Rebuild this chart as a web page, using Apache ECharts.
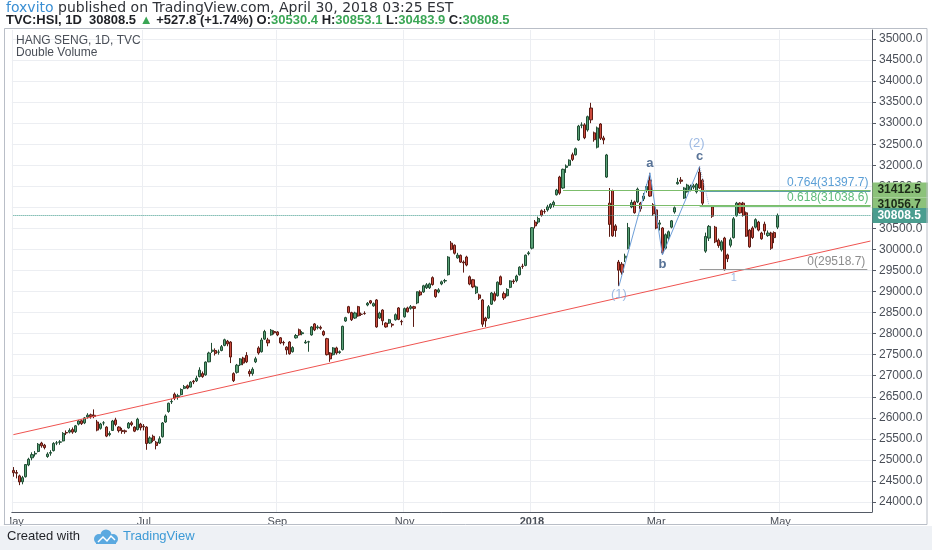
<!DOCTYPE html>
<html>
<head>
<meta charset="utf-8">
<script src="https://cdn.jsdelivr.net/npm/echarts@6/dist/echarts.min.js"></script>
<style>
html, body { margin: 0; padding: 0; background: #ffffff; }
#chart { width: 932px; height: 550px; }
</style>
</head>
<body>
<div id="chart"></div>
<script>
// HK exchange closed days in the period (weekends are skipped too)
var holidays = ['2017-05-03', '2017-05-30', '2017-08-23', '2017-10-02', '2017-10-05',
	'2017-12-25', '2017-12-26', '2018-01-01', '2018-02-16', '2018-02-19', '2018-03-30',
	'2018-04-02', '2018-04-05', '2018-05-01', '2018-05-22'];
var firstDay = '2017-05-02';
var dayCount = 277; // 247 traded days + empty space to the right

// daily candles [open, close, low, high]
var ohlc = [
	// May 2017
	[24750,24696,24600,24830],[24700,24683,24560,24760],[24620,24476,24400,24650],[24480,24578,24420,24620],
	[24600,24889,24580,24900],[24880,25015,24850,25050],[25050,25125,24990,25180],[25140,25156,25080,25210],
	[25200,25371,25180,25400],[25400,25335,25290,25430],[25350,25293,25250,25380],[25080,25137,25050,25180],
	[25160,25174,25100,25230],[25220,25391,25200,25420],[25400,25404,25350,25450],[25420,25428,25360,25470],
	[25450,25631,25440,25660],[25650,25639,25590,25700],[25660,25701,25630,25750],[25720,25660,25620,25770],
	// Jun
	[25670,25809,25640,25830],[25850,25924,25820,25950],[25930,25862,25830,25960],[25880,25997,25850,26020],
	[26020,26063,25980,26110],[26070,26030,25980,26100],[26060,26030,25990,26200],[25900,25708,25680,25950],
	[25750,25852,25720,25880],[25880,25880,25820,25920],[25780,25565,25540,25800],[25600,25626,25560,25680],
	[25700,25924,25690,25950],[25950,25843,25800,26000],[25780,25694,25650,25800],[25700,25674,25620,25760],
	[25690,25670,25620,25720],[25760,25871,25740,25900],[25880,25839,25800,25920],[25780,25683,25660,25800],
	[25720,25965,25700,26000],[25850,25765,25700,25880],
	// Jul
	[25800,25785,25700,25850],[25780,25389,25240,25800],[25400,25522,25380,25560],[25560,25465,25420,25600],
	[25420,25341,25250,25450],[25400,25500,25380,25560],[25550,25877,25530,25900],[25900,26043,25880,26080],
	[26150,26346,26120,26360],[26380,26389,26330,26450],[26560,26470,26420,26600],[26500,26524,26430,26570],
	[26550,26672,26530,26700],[26700,26740,26680,26780],[26760,26706,26680,26790],[26730,26846,26720,26870],
	[26870,26853,26800,26900],[26880,26941,26850,27000],[26980,27131,26960,27200],[27050,26979,26950,27100],
	[27020,27323,27000,27340],
	// Aug
	[27330,27540,27320,27570],[27580,27607,27540,27780],[27600,27531,27480,27650],[27560,27563,27500,27620],
	[27600,27690,27580,27730],[27720,27854,27700,27880],[27820,27757,27700,27850],[27800,27444,27300,27820],
	[27050,26883,26850,27080],[27080,27250,27050,27280],[27260,27400,27230,27420],[27420,27300,27250,27450],
	[27480,27330,27300,27560],[27100,27048,26980,27150],[27050,27154,27000,27200],[27330,27402,27300,27450],
	[27660,27540,27500,27700],[27570,27848,27550,27900],[27870,28050,27850,28090],[27850,27780,27700,27900],
	[27970,28080,27950,28110],[28050,28020,27980,28080],
	// Sep
	[28040,27970,27940,28060],[27900,27780,27750,27920],[27790,27780,27720,27830],[27680,27613,27500,27700],
	[27800,27522,27500,27820],[27570,27668,27550,27700],[27900,27955,27880,27990],[28090,27972,27950,28120],
	[28000,28020,27960,28060],[27780,27800,27760,27850],[27800,27807,27570,27830],[27970,28159,27950,28180],
	[28230,28090,28060,28250],[28140,28160,28100,28200],[28150,28127,28090,28190],[28050,27970,27940,28080],
	[27880,27500,27480,27900],[27540,27400,27330,27560],[27500,27660,27480,27680],[27660,27540,27500,27690],
	[27550,27570,27520,27600],
	// Oct
	[27620,28173,27600,28190],[28300,28379,28280,28400],[28640,28500,28480,28660],[28500,28330,28300,28520],
	[28370,28491,28350,28520],[28640,28420,28400,28660],[28460,28459,28420,28500],[28480,28476,28450,28530],
	[28680,28720,28650,28750],[28780,28730,28700,28800],[28660,28712,28640,28740],[28800,28160,28140,28820],
	[28370,28487,28350,28520],[28560,28305,28200,28580],[28250,28160,28140,28270],[28250,28330,28230,28350],
	[28220,28202,28150,28250],[28330,28450,28310,28480],[28610,28339,28320,28630],[28290,28280,28200,28330],
	// Nov
	[28400,28594,28380,28620],[28610,28520,28500,28640],[28600,28640,28570,28680],[28640,28600,28160,28660],
	[28730,28994,28700,29000],[28990,28920,28890,29030],[28990,29136,28970,29160],[29090,29160,29060,29200],
	[29090,29182,29060,29210],[29330,29166,29140,29360],[29040,28880,28850,29060],[28990,29040,28960,29080],
	[29180,29230,29150,29260],[29250,29261,29200,29300],[29400,29818,29380,29840],[30150,30003,29980,30200],
	[30100,29910,29880,30120],[29800,29866,29780,29920],[29860,29700,29680,29880],[29700,29681,29450,29740],
	[29820,29630,29600,29850],[29350,29177,29150,29380],
	// Dec
	[29280,29110,29080,29300],[28970,29110,28940,29140],[28920,28842,28800,28950],[28800,28225,28160,28820],
	[28370,28303,28160,28400],[28370,28640,28350,28680],[28700,28965,28680,28990],[28950,28793,28760,29000],
	[28900,29222,28880,29240],[29350,29166,29150,29380],[28950,28848,28800,29000],[28900,29050,28880,29080],
	[29100,29253,29080,29270],[29250,29234,29180,29290],[29260,29367,29220,29400],[29400,29578,29380,29600],
	[29600,29597,29540,29660],[29620,29864,29600,29880],[29900,29919,29860,29960],
	// Jan 2018
	[30030,30515,30000,30530],[30650,30560,30500,30700],[30650,30736,30600,30780],[30920,30814,30780,30950],
	[30900,30899,30850,30960],[30940,31011,30900,31060],[31000,31073,30960,31100],[31060,31120,31000,31160],
	[31300,31412,31280,31440],[31720,31338,31300,31750],[31460,31904,31440,31920],[31950,31983,31820,32020],
	[32000,32121,31980,32140],[32250,32140,32100,32300],[32250,32393,32230,32420],[32600,32930,32580,32960],
	[32950,32959,32880,33020],[32960,32654,32620,33000],[32840,33154,32800,33180],[33360,33080,33000,33484],
	[32770,32607,32560,32800],[32430,32887,32400,32920],
	// Feb
	[32980,32642,32600,33000],[32650,32601,32500,32700],[31720,32245,31700,32270],[31100,30595,30300,31460],
	[31400,30323,30300,31420],[30560,30451,30300,30600],[29700,29507,29129,29750],[29650,29459,29400,29700],
	[29800,29839,29700,29900],[30030,30516,30000,30630],[31010,31115,30980,31180],[31130,30873,30850,31160],
	[31130,31432,31100,31470],[31100,30965,30900,31130],[31200,31267,31150,31340],[31400,31498,31350,31550],
	[31650,31268,31250,31820],[31060,30845,30800,31100],
	// Mar
	[30940,30510,30480,31000],[30600,30630,30450,30700],[30510,29920,29870,30530],[30030,30350,30000,30380],
	[30270,30420,30200,30450],[30530,30680,30500,30700],[30890,30990,30850,31020],[31560,31594,31540,31700],
	[31650,31620,31560,31720],[31220,31460,31200,31480],[31370,31530,31350,31560],[31400,31500,31380,31540],
	[31480,31513,31430,31560],[31370,31549,31330,31580],[31840,31460,31440,31978],[31650,31100,31050,31680],
	[29960,30309,29920,30400],[30270,30548,30200,30580],[31010,30790,30750,31050],[30530,30180,30150,30560],
	[30220,30093,30040,30260],
	// Apr
	[29990,30180,29950,30220],[30270,29519,29500,30300],[29870,29780,29700,29900],[30100,30229,30050,30280],
	[30280,30728,30260,30770],[30800,31100,30780,31130],[31100,30870,30850,31120],[31100,30808,30780,31130],
	[30870,30316,30300,30900],[30460,30063,30040,30480],[30510,30284,30250,30550],[30530,30708,30500,30740],
	[30650,30460,30430,30680],[30390,30254,30230,30420],[30600,30440,30350,30660],[30330,30390,30300,30450],
	[30390,30030,29990,30420],[30400,30281,30150,30430],[30530.4,30808.5,30483.9,30853.1]
];

var yTicks = [24000, 24500, 25000, 25500, 26000, 26500, 27000, 27500, 28000, 28500, 29000,
	29500, 30000, 30500, 31000, 31500, 32000, 32500, 33000, 33500, 34000, 34500, 35000];
var monthNames = ['Jan', 'Feb', 'Mar', 'Apr', 'May', 'Jun', 'Jul', 'Aug', 'Sep', 'Oct', 'Nov', 'Dec'];

// Elliott wave pivots
var wavePoints = [['2018-02-09', 29129], ['2018-02-27', 31820], ['2018-03-05', 29870], ['2018-03-21', 31978]];
// fib retracement levels
var fibLevels = [
	{ level: 31397.7, text: '0.764(31397.7)' },
	{ level: 31038.6, text: '0.618(31038.6)' },
	{ level: 29518.7, text: '0(29518.7)' }
];
// horizontal rays and last price
var lastPrice = 30808.5;
var rayLevels = [{ from: '2018-01-16', level: 31412.5 }, { from: '2018-01-11', level: 31056.7 }];
// trend line ends
var trendStart = 25600, trendEnd = 30200;

// trading day categories
var dates = [];
(function () {
	var d = new Date(firstDay + 'T00:00:00Z');
	while (dates.length < dayCount) {
		var s = d.toISOString().slice(0, 10);
		var wd = d.getUTCDay();
		if (wd !== 0 && wd !== 6 && holidays.indexOf(s) < 0) dates.push(s);
		d.setUTCDate(d.getUTCDate() + 1);
	}
})();
var lastCat = dates[dates.length - 1];

var labelDays = {};
for (var i = 0; i < dates.length; i++) {
	var m = parseInt(dates[i].slice(5, 7), 10);
	var newMonth = i === 0 || dates[i - 1].slice(5, 7) !== dates[i].slice(5, 7);
	if (newMonth && m % 2 === 1) labelDays[i] = true;
}
function isLabelDay(index) { return !!labelDays[index]; }

var FONT = '"Liberation Sans", Arial, sans-serif';
var chart = echarts.init(document.getElementById('chart'));

function boxLabel(text, bg, fg) {
	return {
		show: true, position: 'end', distance: 2, formatter: text, backgroundColor: bg, color: fg,
		fontWeight: 'bold', fontSize: 12, fontFamily: FONT, padding: [2, 7, 1, 5]
	};
}

var marks = [
	// trend line
	[{ coord: [dates[0], trendStart], lineStyle: { color: '#ef5350', width: 1, type: 'solid' }, label: { show: false } },
	 { coord: [lastCat, trendEnd] }],
	// fib lines
	[{ coord: ['2018-03-21', fibLevels[0].level], lineStyle: { color: '#5f9ea8', width: 2, type: 'solid' },
	   label: { show: true, position: 'insideEndTop', formatter: fibLevels[0].text, color: '#5c9fd6', fontSize: 12, fontFamily: FONT, distance: 2 } },
	 { coord: [lastCat, fibLevels[0].level] }],
	[{ coord: ['2018-03-21', fibLevels[1].level], lineStyle: { color: '#7cc47a', width: 2, type: 'solid' },
	   label: { show: true, position: 'insideEndTop', formatter: fibLevels[1].text, color: '#5dbb78', fontSize: 12, fontFamily: FONT, distance: 2 } },
	 { coord: [lastCat, fibLevels[1].level] }],
	[{ coord: ['2018-03-21', fibLevels[2].level], lineStyle: { color: '#9a9a9a', width: 1, type: 'solid' },
	   label: { show: true, position: 'insideEndTop', formatter: fibLevels[2].text, color: '#8d8d8d', fontSize: 12, fontFamily: FONT, distance: 2 } },
	 { coord: [dates[275], fibLevels[2].level] }],
	// rays with price boxes
	[{ coord: [rayLevels[0].from, rayLevels[0].level], lineStyle: { color: '#7cbd6b', width: 1, type: 'solid' },
	   label: boxLabel('31412.5', '#8cc27a', '#1c2a18') },
	 { coord: [lastCat, rayLevels[0].level] }],
	[{ coord: [rayLevels[1].from, rayLevels[1].level], lineStyle: { color: '#7cbd6b', width: 1, type: 'solid' },
	   label: boxLabel('31056.7', '#8cc27a', '#1c2a18') },
	 { coord: [lastCat, rayLevels[1].level] }],
	// last price
	[{ coord: [dates[0], lastPrice], lineStyle: { color: '#3f9a8b', width: 1, type: 'dotted' },
	   label: boxLabel('30808.5', '#4a9d8f', '#ffffff') },
	 { coord: [lastCat, lastPrice] }],
	// dotted leg after c
	[{ coord: ['2018-03-21', 31978], lineStyle: { color: '#9bb7dc', width: 1, type: 'dotted' }, label: { show: false } },
	 { coord: ['2018-03-26', 31050] }]
];

var option = {
	animation: false,
	backgroundColor: '#ffffff',
	grid: { left: 7, right: 60, top: 30, bottom: 38 },
	xAxis: {
		type: 'category',
		data: dates,
		axisLine: { lineStyle: { color: '#555b66' } },
		axisTick: { show: false },
		axisLabel: {
			interval: isLabelDay,
			color: '#4a4f58',
			fontSize: 11,
			fontFamily: FONT,
			margin: 4,
			formatter: function (v) {
				var m = parseInt(v.slice(5, 7), 10);
				return m === 1 ? '{b|' + v.slice(0, 4) + '}' : monthNames[m - 1];
			},
			rich: { b: { fontWeight: 'bold', fontSize: 11, color: '#4a4f58', fontFamily: FONT } }
		},
		splitLine: { show: true, interval: isLabelDay, lineStyle: { color: '#eceef2' } }
	},
	yAxis: {
		type: 'value',
		position: 'right',
		min: 23762,
		max: 35214,
		axisLine: { show: true, lineStyle: { color: '#555b66' } },
		axisTick: { show: true, length: 4, customValues: yTicks, lineStyle: { color: '#555b66' } },
		axisLabel: {
			customValues: yTicks,
			color: '#4a4f58',
			fontSize: 12,
			fontFamily: FONT,
			margin: 7,
			formatter: function (v) { return v.toFixed(1); }
		},
		splitLine: { show: true, lineStyle: { color: '#eceef2' } }
	},
	series: [
		{
			type: 'candlestick',
			data: ohlc,
			barWidth: 2.6,
			itemStyle: {
				color: '#58a076', color0: '#cc4a3c',
				borderColor: '#1f4d33', borderColor0: '#5b1a13', borderWidth: 1
			},
			markLine: { symbol: ['none', 'none'], silent: true, animation: false, data: marks }
		},
		{
			type: 'line',
			data: wavePoints,
			symbol: 'none',
			lineStyle: { color: '#6e9fd8', width: 1 },
			z: 4
		},
		{
			type: 'scatter',
			symbolSize: 0,
			z: 6,
			label: { show: true, fontFamily: FONT },
			data: [
				{ value: wavePoints[0], label: { formatter: '(1)', position: 'bottom', distance: 2, color: '#86a9dc', fontSize: 13 } },
				{ value: wavePoints[1], label: { formatter: 'a', position: 'top', distance: 3, color: '#2d4f7c', fontSize: 13, fontWeight: 'bold' } },
				{ value: wavePoints[2], label: { formatter: 'b', position: 'bottom', distance: 3, color: '#2d4f7c', fontSize: 13, fontWeight: 'bold' } },
				{ value: wavePoints[3], label: { formatter: 'c', position: 'top', distance: 3, color: '#2d4f7c', fontSize: 13, fontWeight: 'bold' } },
				{ value: wavePoints[3], label: { formatter: '(2)', position: 'top', distance: 16, offset: [-3, 0], color: '#86a9dc', fontSize: 13 } },
				{ value: ['2018-04-10', 29518.7], label: { formatter: '1', position: 'bottom', distance: 3, color: '#86a9dc', fontSize: 11 } }
			]
		}
	],
	graphic: [
		{ type: 'rect', silent: true, z: 100, shape: { x: 0, y: 526, width: 932, height: 24 }, style: { fill: '#eef1f5' } },
		{ type: 'rect', silent: true, z: 100, shape: { x: 0, y: 512.5, width: 10, height: 12 }, style: { fill: '#ffffff' } },
		{ type: 'rect', silent: true, z: 101, shape: { x: 4.5, y: 28.5, width: 922.5, height: 496 }, style: { fill: 'none', stroke: '#b9bec7', lineWidth: 1 } },
		{
			type: 'text', z: 101, left: 6, top: 1,
			style: {
				text: '{u|foxvito} published on TradingView.com, April 30, 2018 03:25 EST',
				font: '14px "DejaVu Sans", sans-serif', fill: '#2f3238',
				rich: { u: { fill: '#3a8fd3', font: '14px "DejaVu Sans", sans-serif' } }
			}
		},
		{
			type: 'text', z: 101, left: 6, top: 14,
			style: {
				text: 'TVC:HSI, 1D  30808.5 {g|▲} +527.8 (+1.74%) O:{g|30530.4} H:{g|30853.1} L:{g|30483.9} C:{g|30808.5}',
				font: 'bold 13px ' + FONT, fill: '#1f2126',
				rich: { g: { fill: '#3aa655', font: 'bold 13px ' + FONT } }
			}
		},
		{ type: 'text', z: 101, left: 16, top: 35, style: { text: 'HANG SENG, 1D, TVC', font: '12px ' + FONT, fill: '#4a4f58' } },
		{ type: 'text', z: 101, left: 16, top: 47, style: { text: 'Double Volume', font: '12px ' + FONT, fill: '#4a4f58' } },
		{ type: 'text', z: 101, left: 7, top: 530, style: { text: 'Created with', font: '13px ' + FONT, fill: '#1f2126' } },
		{ type: 'circle', z: 102, silent: true, shape: { cx: 99, cy: 539, r: 5 }, style: { fill: '#5aa9e0' } },
		{ type: 'circle', z: 102, silent: true, shape: { cx: 106, cy: 535, r: 5.5 }, style: { fill: '#5aa9e0' } },
		{ type: 'circle', z: 102, silent: true, shape: { cx: 113, cy: 539, r: 5 }, style: { fill: '#5aa9e0' } },
		{ type: 'rect', z: 102, silent: true, shape: { x: 96, y: 539, width: 20, height: 5 }, style: { fill: '#5aa9e0' } },
		{ type: 'polyline', z: 103, silent: true, shape: { points: [[98, 542], [103, 537], [107, 541], [111, 536], [115, 540]] },
		  style: { stroke: '#ffffff', lineWidth: 1.5, fill: 'none' } },
		{ type: 'text', z: 101, left: 123, top: 530, style: { text: 'TradingView', font: '13px ' + FONT, fill: '#3d9ad6' } }
	]
};

chart.setOption(option);

window.addEventListener('resize', function () {
	chart.resize();
});
</script>
</body>
</html>
